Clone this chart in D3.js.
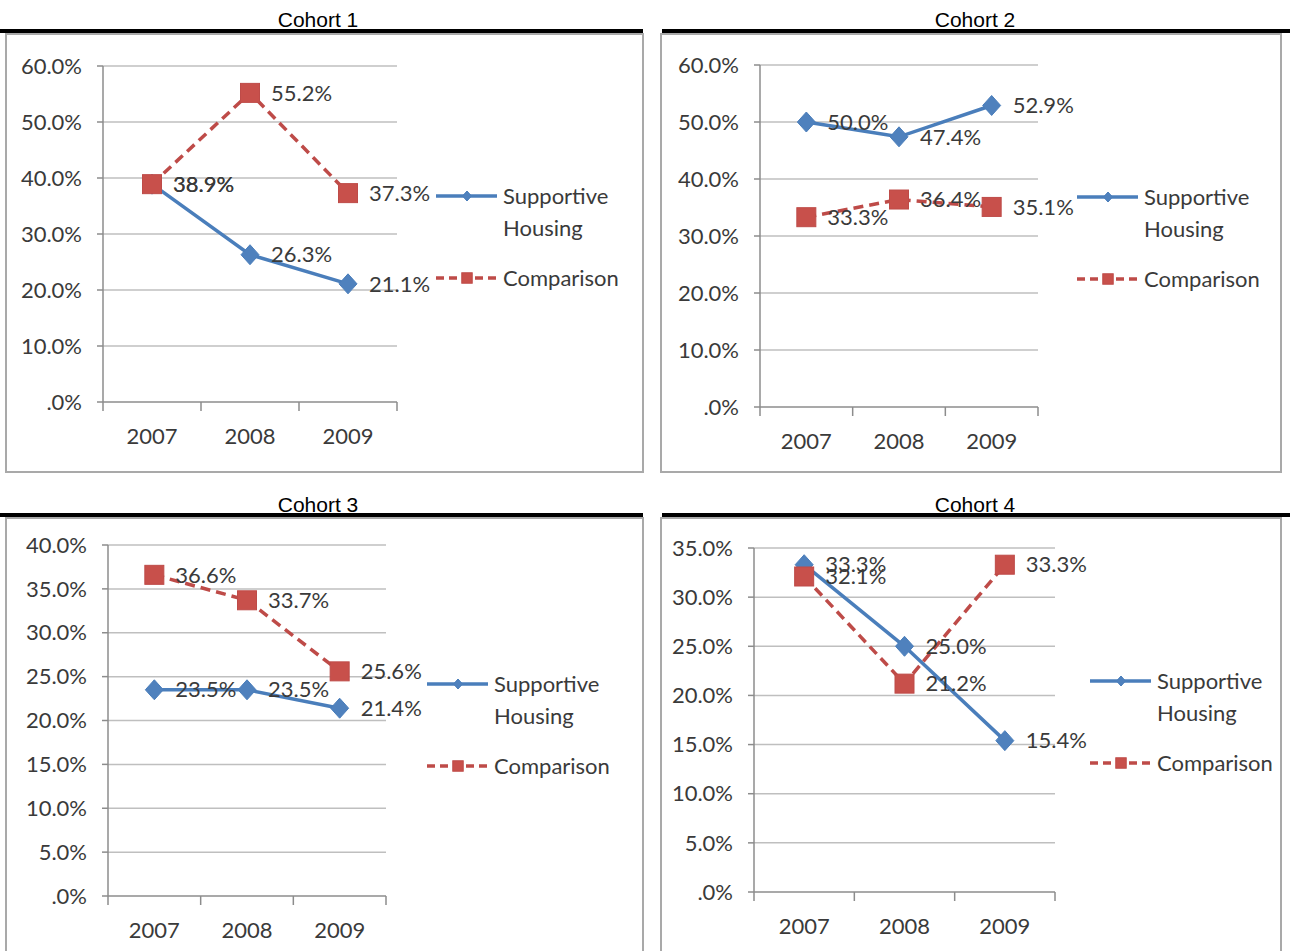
<!DOCTYPE html>
<html>
<head>
<meta charset="utf-8">
<script src="https://cdn.jsdelivr.net/npm/d3@7"></script>
<style>
  html, body { margin: 0; padding: 0; background: #fff; }
  svg { display: block; }
</style>
</head>
<body>
<svg id="chart" width="1290" height="951"></svg>
<script>
// ---- data ----
const years = ["2007", "2008", "2009"];
const seriesNames = ["Supportive Housing", "Comparison"];
const cohortTitles = ["Cohort 1", "Cohort 2", "Cohort 3", "Cohort 4"];

const supportiveHousing = [
  [38.9, 26.3, 21.1],
  [50.0, 47.4, 52.9],
  [23.5, 23.5, 21.4],
  [33.3, 25.0, 15.4]
];
const comparison = [
  [38.9, 55.2, 37.3],
  [33.3, 36.4, 35.1],
  [36.6, 33.7, 25.6],
  [32.1, 21.2, 33.3]
];
const yAxisMax = [60, 60, 40, 35];
const yTickStep = [10, 10, 5, 5];

// ---- layout of the four panels ----
const panels = [
  { frame: [6, 34, 643, 472], rule: [0, 643, 31], titleX: 318, titleY: 27,
    plot: { x0: 103, x1: 397, yTop: 66, yBottom: 402 }, legend: { x: 436, y: 196 } },
  { frame: [661, 34, 1281, 472], rule: [662, 1290, 31], titleX: 975, titleY: 27,
    plot: { x0: 760, x1: 1038, yTop: 65, yBottom: 407 }, legend: { x: 1077, y: 197 } },
  { frame: [6, 518, 643, 960], rule: [0, 643, 515], titleX: 318, titleY: 512,
    plot: { x0: 108, x1: 386, yTop: 545, yBottom: 896 }, legend: { x: 427, y: 684 } },
  { frame: [661, 518, 1281, 960], rule: [662, 1290, 515], titleX: 975, titleY: 512,
    plot: { x0: 754, x1: 1055, yTop: 548, yBottom: 892 }, legend: { x: 1090, y: 681 } }
];

const BLUE = "#4A7EBB", BLUE_FILL = "#4F81BD";
const RED = "#BE4B48", RED_FILL = "#C8504B";
const TEXT = "#3a3a3a";
const FONT = "Lato, 'Open Sans', sans-serif";
const FONT_SIZE = 22;

const svg = d3.select("#chart");

const fmtTick = d => d === 0 ? ".0%" : d.toFixed(1) + "%";
const fmtLabel = d => d.toFixed(1) + "%";

function diamondPath(w, h) {
  return `M0,${-h}L${w},0L0,${h}L${-w},0Z`;
}

function drawMarker(g, kind, x, y, scale) {
  if (kind === 0) {
    g.append("path")
      .attr("d", diamondPath(9 * scale, 10 * scale))
      .attr("transform", `translate(${x},${y})`)
      .attr("fill", BLUE_FILL)
      .attr("stroke", BLUE).attr("stroke-width", 1);
  } else {
    const s = 19 * scale;
    g.append("rect")
      .attr("x", x - s / 2).attr("y", y - s / 2)
      .attr("width", s).attr("height", s)
      .attr("fill", RED_FILL)
      .attr("stroke", RED).attr("stroke-width", 1);
  }
}

panels.forEach((p, i) => {
  const g = svg.append("g");

  // panel frame
  const [fx0, fy0, fx1, fy1] = p.frame;
  g.append("rect")
    .attr("x", fx0).attr("y", fy0)
    .attr("width", fx1 - fx0).attr("height", fy1 - fy0)
    .attr("fill", "#fff")
    .attr("stroke", "#a9a9a9").attr("stroke-width", 2);

  // heavy rule under the title
  g.append("line")
    .attr("x1", p.rule[0]).attr("x2", p.rule[1])
    .attr("y1", p.rule[2]).attr("y2", p.rule[2])
    .attr("stroke", "#000").attr("stroke-width", 4);

  g.append("text")
    .attr("x", p.titleX).attr("y", p.titleY)
    .attr("text-anchor", "middle")
    .attr("font-family", "'Liberation Sans', Arial, sans-serif")
    .attr("font-size", 21)
    .attr("fill", "#000")
    .text(cohortTitles[i]);

  // scales
  const x = d3.scaleBand().domain(years).range([p.plot.x0, p.plot.x1]).padding(0);
  const y = d3.scaleLinear().domain([0, yAxisMax[i]]).range([p.plot.yBottom, p.plot.yTop]);
  const cx = d => x(d) + x.bandwidth() / 2;
  const ticks = d3.range(0, yAxisMax[i] + 0.001, yTickStep[i]);

  // gridlines
  g.append("g").selectAll("line")
    .data(ticks.filter(t => t > 0))
    .join("line")
    .attr("x1", p.plot.x0).attr("x2", p.plot.x1)
    .attr("y1", d => y(d)).attr("y2", d => y(d))
    .attr("stroke", "#bfbfbf").attr("stroke-width", 1.5);

  // y axis
  const axisColor = "#8c8c8c";
  g.append("line")
    .attr("x1", p.plot.x0).attr("x2", p.plot.x0)
    .attr("y1", y(yAxisMax[i])).attr("y2", y(0))
    .attr("stroke", axisColor).attr("stroke-width", 1.5);
  g.append("g").selectAll("line")
    .data(ticks)
    .join("line")
    .attr("x1", p.plot.x0 - 6).attr("x2", p.plot.x0)
    .attr("y1", d => y(d)).attr("y2", d => y(d))
    .attr("stroke", axisColor).attr("stroke-width", 1.5);
  g.append("g").selectAll("text")
    .data(ticks)
    .join("text")
    .attr("x", p.plot.x0 - 21).attr("y", d => y(d))
    .attr("dy", "0.35em")
    .attr("text-anchor", "end")
    .attr("font-family", FONT).attr("font-size", FONT_SIZE)
    .attr("fill", TEXT)
    .text(fmtTick);

  // x axis
  g.append("line")
    .attr("x1", p.plot.x0).attr("x2", p.plot.x1)
    .attr("y1", y(0)).attr("y2", y(0))
    .attr("stroke", axisColor).attr("stroke-width", 1.5);
  const bounds = years.map(d => x(d)).concat([p.plot.x1]);
  g.append("g").selectAll("line")
    .data(bounds)
    .join("line")
    .attr("x1", d => d).attr("x2", d => d)
    .attr("y1", y(0)).attr("y2", y(0) + 9)
    .attr("stroke", axisColor).attr("stroke-width", 1.5);
  g.append("g").selectAll("text")
    .data(years)
    .join("text")
    .attr("x", d => cx(d)).attr("y", y(0) + 34)
    .attr("dy", "0.35em")
    .attr("text-anchor", "middle")
    .attr("font-family", FONT).attr("font-size", FONT_SIZE)
    .attr("fill", TEXT)
    .text(d => d);

  // series
  const series = [supportiveHousing[i], comparison[i]];
  const line = d3.line().x((d, k) => cx(years[k])).y(d => y(d));
  series.forEach((vals, s) => {
    g.append("path")
      .datum(vals)
      .attr("d", line)
      .attr("fill", "none")
      .attr("stroke", s === 0 ? BLUE : RED)
      .attr("stroke-width", 3.5)
      .attr("stroke-dasharray", s === 0 ? null : "10,6");
    vals.forEach((v, k) => drawMarker(g, s, cx(years[k]), y(v), 1));
  });

  // data labels
  series.forEach(vals => {
    g.append("g").selectAll("text")
      .data(vals)
      .join("text")
      .attr("x", (d, k) => cx(years[k]) + 21)
      .attr("y", d => y(d))
      .attr("dy", "0.35em")
      .attr("font-family", FONT).attr("font-size", FONT_SIZE)
      .attr("fill", TEXT)
      .text(fmtLabel);
  });

  // legend
  const lg = g.append("g").attr("transform", `translate(${p.legend.x},${p.legend.y})`);
  const rows = [0, 82];
  seriesNames.forEach((name, s) => {
    const ry = rows[s];
    lg.append("line")
      .attr("x1", 0).attr("x2", 61)
      .attr("y1", ry).attr("y2", ry)
      .attr("stroke", s === 0 ? BLUE : RED)
      .attr("stroke-width", 3.5)
      .attr("stroke-dasharray", s === 0 ? null : "8,5");
    drawMarker(lg, s, 31, ry, s === 0 ? 0.5 : 0.55);
    const words = s === 0 ? ["Supportive", "Housing"] : [name];
    words.forEach((w, k) => {
      lg.append("text")
        .attr("x", 67).attr("y", ry + k * 32)
        .attr("dy", "0.35em")
        .attr("font-family", FONT).attr("font-size", FONT_SIZE)
        .attr("fill", TEXT)
        .text(w);
    });
  });
});
</script>
</body>
</html>
